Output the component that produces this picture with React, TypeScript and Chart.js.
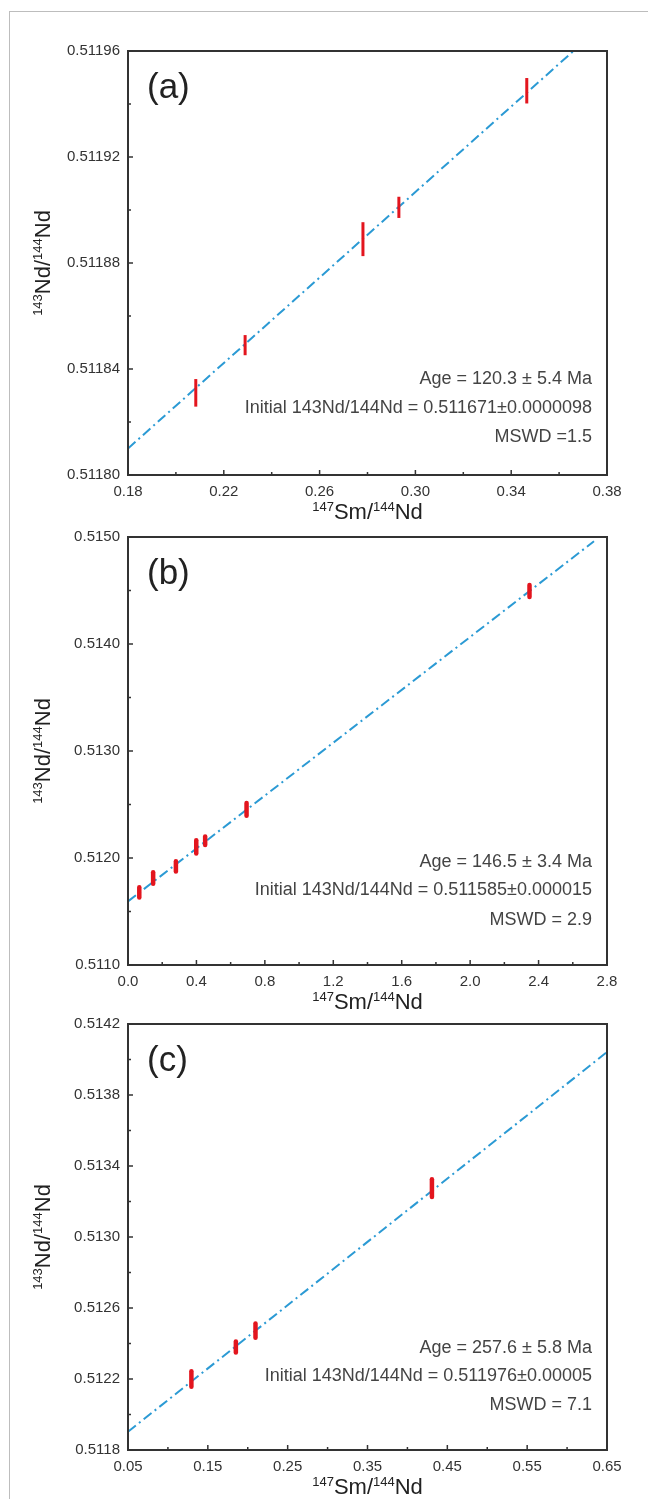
import React, { useEffect, useRef } from 'react';
import { Chart, registerables } from 'chart.js';
Chart.register(...registerables);

const FONT = '"Liberation Sans", Arial, sans-serif';

// ---------- Panel (a) ----------
const A_X = [0.2083, 0.2289, 0.2781, 0.2931, 0.3465];
const A_Y = [0.511831, 0.511849, 0.511889, 0.511901, 0.511945];
const A_ERR = [0.0000052, 0.0000038, 0.0000064, 0.000004, 0.0000048];
const A_LINE_X = [0.18, 0.366];
const A_LINE_Y = [0.51181, 0.51196];
const A_XTICKS = [0.18, 0.22, 0.26, 0.3, 0.34, 0.38];
const A_YTICKS = [0.5118, 0.51184, 0.51188, 0.51192, 0.51196];
const A_TEXT = ['Age = 120.3 ± 5.4 Ma', 'Initial 143Nd/144Nd = 0.511671±0.0000098', 'MSWD =1.5'];

// ---------- Panel (b) ----------
const B_X = [0.066, 0.147, 0.28, 0.399, 0.451, 0.693, 2.347];
const B_Y = [0.511679, 0.511813, 0.511922, 0.512103, 0.512162, 0.512455, 0.514495];
const B_ERR = [0.000047, 0.000053, 0.000047, 0.000062, 0.00004, 0.000059, 0.000056];
const B_LINE_X = [0, 2.724];
const B_LINE_Y = [0.511595, 0.51496];
const B_XTICKS = [0, 0.4, 0.8, 1.2, 1.6, 2.0, 2.4, 2.8];
const B_YTICKS = [0.511, 0.512, 0.513, 0.514, 0.515];
const B_TEXT = ['Age = 146.5 ± 3.4 Ma', 'Initial 143Nd/144Nd = 0.511585±0.000015', 'MSWD = 2.9'];

// ---------- Panel (c) ----------
const C_X = [0.1294, 0.1851, 0.2097, 0.4307];
const C_Y = [0.5122, 0.51238, 0.512472, 0.513276];
const C_ERR = [0.000044, 0.000031, 0.00004, 0.00005];
const C_LINE_X = [0.05, 0.65];
const C_LINE_Y = [0.511903, 0.514042];
const C_XTICKS = [0.05, 0.15, 0.25, 0.35, 0.45, 0.55, 0.65];
const C_YTICKS = [0.5118, 0.5122, 0.5126, 0.513, 0.5134, 0.5138, 0.5142];
const C_TEXT = ['Age = 257.6 ± 5.8 Ma', 'Initial 143Nd/144Nd = 0.511976±0.00005', 'MSWD = 7.1'];

type Part = { t: string; sup?: boolean };
const X_TITLE: Part[] = [{ t: '147', sup: true }, { t: 'Sm/' }, { t: '144', sup: true }, { t: 'Nd' }];
const Y_TITLE: Part[] = [{ t: '143', sup: true }, { t: 'Nd/' }, { t: '144', sup: true }, { t: 'Nd' }];

const PAGE_W = 648;
const PLOT_L = 128;
const PLOT_R = 607;

type PanelCfg = {
  tag: string;
  xs: number[]; ys: number[]; errs: number[];
  lx: number[]; ly: number[];
  xt: number[]; yt: number[];
  xDec: number; yDec: number;
  text: string[];
  textOff: number[];
  top: number; bottom: number;
  barW: number; round: boolean;
};

const PANELS: PanelCfg[] = [
  { tag: '(a)', xs: A_X, ys: A_Y, errs: A_ERR, lx: A_LINE_X, ly: A_LINE_Y, xt: A_XTICKS, yt: A_YTICKS, xDec: 2, yDec: 5, text: A_TEXT, textOff: [96, 67, 38], top: 51, bottom: 475, barW: 3, round: false },
  { tag: '(b)', xs: B_X, ys: B_Y, errs: B_ERR, lx: B_LINE_X, ly: B_LINE_Y, xt: B_XTICKS, yt: B_YTICKS, xDec: 1, yDec: 4, text: B_TEXT, textOff: [103, 75, 45], top: 537, bottom: 965, barW: 4.5, round: true },
  { tag: '(c)', xs: C_X, ys: C_Y, errs: C_ERR, lx: C_LINE_X, ly: C_LINE_Y, xt: C_XTICKS, yt: C_YTICKS, xDec: 2, yDec: 4, text: C_TEXT, textOff: [102, 74, 45], top: 1024, bottom: 1450, barW: 4.5, round: true },
];

const PAD_T = 20;
const X_AXIS_H = 55;
const X_TITLE_OFF = 44;

function drawRich(ctx: CanvasRenderingContext2D, parts: Part[], cx: number, baseline: number) {
  const big = 22, small = 13;
  let total = 0;
  const widths = parts.map((p) => {
    ctx.font = `${p.sup ? small : big}px ${FONT}`;
    const w = ctx.measureText(p.t).width;
    total += w;
    return w;
  });
  let x = cx - total / 2;
  ctx.textAlign = 'left';
  ctx.textBaseline = 'alphabetic';
  parts.forEach((p, i) => {
    ctx.font = `${p.sup ? small : big}px ${FONT}`;
    ctx.fillText(p.t, x, p.sup ? baseline - 8 : baseline);
    x += widths[i];
  });
}

function mids(arr: number[]) {
  const out: number[] = [];
  for (let i = 0; i < arr.length - 1; i++) out.push((arr[i] + arr[i + 1]) / 2);
  return out;
}

function PanelChart({ cfg }: { cfg: PanelCfg }) {
  const ref = useRef<HTMLCanvasElement | null>(null);
  const H = cfg.bottom - cfg.top + PAD_T + X_AXIS_H;
  useEffect(() => {
    if (!ref.current) return;
    const deco = {
      id: 'deco',
      afterDatasetsDraw(chart: any) {
        const ctx = chart.ctx as CanvasRenderingContext2D;
        const xs = chart.scales.x, ys = chart.scales.y;
        ctx.save();
        ctx.strokeStyle = '#e3151e';
        ctx.lineWidth = cfg.barW;
        ctx.lineCap = cfg.round ? 'round' : 'butt';
        cfg.xs.forEach((xv, i) => {
          const px = xs.getPixelForValue(xv);
          const p1 = ys.getPixelForValue(cfg.ys[i] - cfg.errs[i]);
          const p2 = ys.getPixelForValue(cfg.ys[i] + cfg.errs[i]);
          ctx.beginPath();
          ctx.moveTo(px, p1);
          ctx.lineTo(px, p2);
          ctx.stroke();
        });
        ctx.restore();
      },
      afterDraw(chart: any) {
        const ctx = chart.ctx as CanvasRenderingContext2D;
        const { left, right, top, bottom } = chart.chartArea;
        const xs = chart.scales.x, ys = chart.scales.y;
        ctx.save();
        ctx.strokeStyle = '#333';
        ctx.lineWidth = 2;
        ctx.strokeRect(left, top, right - left, bottom - top);
        ctx.lineWidth = 1.5;
        cfg.xt.forEach((v) => {
          const p = xs.getPixelForValue(v);
          ctx.beginPath(); ctx.moveTo(p, bottom); ctx.lineTo(p, bottom - 5); ctx.stroke();
        });
        mids(cfg.xt).forEach((v) => {
          const p = xs.getPixelForValue(v);
          ctx.beginPath(); ctx.moveTo(p, bottom); ctx.lineTo(p, bottom - 3); ctx.stroke();
        });
        cfg.yt.forEach((v) => {
          const p = ys.getPixelForValue(v);
          ctx.beginPath(); ctx.moveTo(left, p); ctx.lineTo(left + 5, p); ctx.stroke();
        });
        mids(cfg.yt).forEach((v) => {
          const p = ys.getPixelForValue(v);
          ctx.beginPath(); ctx.moveTo(left, p); ctx.lineTo(left + 3, p); ctx.stroke();
        });
        ctx.fillStyle = '#222';
        ctx.font = `35px ${FONT}`;
        ctx.textAlign = 'left';
        ctx.textBaseline = 'middle';
        ctx.fillText(cfg.tag, left + 19, top + 37);
        ctx.fillStyle = '#444';
        ctx.font = `18px ${FONT}`;
        ctx.textAlign = 'right';
        cfg.text.forEach((t, i) => {
          ctx.fillText(t, right - 15, bottom - cfg.textOff[i]);
        });
        ctx.fillStyle = '#222';
        drawRich(ctx, X_TITLE, (left + right) / 2, bottom + X_TITLE_OFF);
        ctx.translate(42, (top + bottom) / 2);
        ctx.rotate(-Math.PI / 2);
        drawRich(ctx, Y_TITLE, 0, 8);
        ctx.restore();
      },
    };
    const chart = new Chart(ref.current, {
      type: 'scatter',
      data: {
        datasets: [
          {
            type: 'line',
            data: cfg.lx.map((x, i) => ({ x, y: cfg.ly[i] })),
            borderColor: '#2b9ad4',
            borderWidth: 2,
            borderDash: [10, 4, 2, 4],
            pointRadius: 0,
            fill: false,
          } as any,
          {
            data: cfg.xs.map((x, i) => ({ x, y: cfg.ys[i] })),
            pointRadius: 0,
            backgroundColor: 'rgba(0,0,0,0)',
            borderColor: 'rgba(0,0,0,0)',
          },
        ],
      },
      options: {
        animation: false,
        responsive: false,
        maintainAspectRatio: false,
        devicePixelRatio: 1,
        layout: { padding: { left: 0, right: PAGE_W - PLOT_R, top: PAD_T, bottom: 0 } },
        plugins: { legend: { display: false }, tooltip: { enabled: false } },
        scales: {
          x: {
            type: 'linear',
            min: cfg.xt[0],
            max: cfg.xt[cfg.xt.length - 1],
            grid: { display: false, drawTicks: false },
            border: { display: false },
            afterBuildTicks: (s: any) => { s.ticks = cfg.xt.map((v) => ({ value: v })); },
            afterFit: (s: any) => { s.height = X_AXIS_H; },
            ticks: {
              autoSkip: false,
              maxRotation: 0,
              padding: 8,
              color: '#333',
              font: { family: FONT, size: 15 },
              callback: (v: any) => Number(v).toFixed(cfg.xDec),
            },
          },
          y: {
            type: 'linear',
            min: cfg.yt[0],
            max: cfg.yt[cfg.yt.length - 1],
            grid: { display: false, drawTicks: false },
            border: { display: false },
            afterBuildTicks: (s: any) => { s.ticks = cfg.yt.map((v) => ({ value: v })); },
            afterFit: (s: any) => { s.width = PLOT_L; },
            ticks: {
              autoSkip: false,
              padding: 8,
              color: '#333',
              font: { family: FONT, size: 15 },
              callback: (v: any) => Number(v).toFixed(cfg.yDec),
            },
          },
        },
      },
      plugins: [deco],
    });
    return () => chart.destroy();
  }, [cfg]);
  return (
    <canvas
      ref={ref}
      width={PAGE_W}
      height={H}
      style={{ position: 'absolute', left: 0, top: cfg.top - PAD_T, width: PAGE_W, height: H }}
    />
  );
}

export default function App() {
  return (
    <div style={{ position: 'absolute', left: 0, top: 0, width: PAGE_W, height: 1499, overflow: 'hidden', background: '#fff' }}>
      <div style={{ position: 'absolute', left: 9, top: 11, width: 800, height: 1600, borderTop: '1px solid #bdbdbd', borderLeft: '1px solid #bdbdbd' }} />
      {PANELS.map((p) => (
        <PanelChart key={p.tag} cfg={p} />
      ))}
    </div>
  );
}
